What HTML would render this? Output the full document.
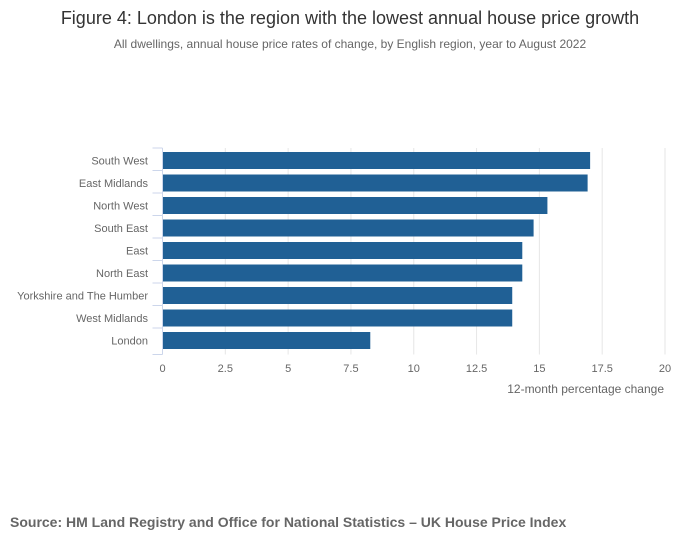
<!DOCTYPE html>
<html><head><meta charset="utf-8"><style>
body{margin:0;background:#fff;font-family:"Liberation Sans",sans-serif}
</style></head><body>
<svg width="700" height="549" xmlns="http://www.w3.org/2000/svg">
<text x="350" y="24" text-anchor="middle" font-size="18" fill="#333">Figure 4: London is the region with the lowest annual house price growth</text>
<text x="350" y="48" text-anchor="middle" font-size="12" fill="#666">All dwellings, annual house price rates of change, by English region, year to August 2022</text>
<g id="grid"></g><g id="bars"></g><g id="axes"></g>
<text x="664" y="393" text-anchor="end" font-size="12" fill="#666">12-month percentage change</text>
<text x="10" y="527" font-size="14" font-weight="bold" fill="#666">Source: HM Land Registry and Office for National Statistics – UK House Price Index</text>
</svg>
<script>
const categories=["South West","East Midlands","North West","South East","East","North East","Yorkshire and The Humber","West Midlands","London"];
const values=[17.0,16.9,15.3,14.75,14.3,14.3,13.9,13.9,8.25];
const ticks=[0,2.5,5,7.5,10,12.5,15,17.5,20];
const ns="http://www.w3.org/2000/svg";
const x0=162.5,x1=665,yTop=148,band=22.5;
const yBottom=yTop+band*categories.length+4;
const xs=v=>x0+(v-0)/(20-0)*(x1-x0);
function mk(t,a,p){const e=document.createElementNS(ns,t);for(const k in a)e.setAttribute(k,a[k]);p.appendChild(e);return e;}
const g=document.getElementById('grid'),b=document.getElementById('bars'),ax=document.getElementById('axes');
ticks.forEach((t,i)=>{
 if(i>0){const l=mk('line',{x1:xs(t),x2:xs(t),y1:yTop,y2:yBottom,stroke:'#e6e6e6'},g);
 
 }
 const tx=mk('text',{x:xs(t),y:372,'text-anchor':'middle','font-size':11,fill:'#666'},ax);tx.textContent=t;
 
 
});
const al=mk('line',{x1:x0,x2:x0,y1:yTop,y2:yBottom,stroke:'#ccd6eb'},ax);


for(let i=0;i<=categories.length;i++){const yy=i==categories.length?yBottom:yTop+i*band;mk('line',{x1:x0-10,x2:x0,y1:yy,y2:yy,stroke:'#ccd6eb'},ax);}
categories.forEach((c,i)=>{
 const y=yTop+i*band;
 const r=mk('rect',{x:x0+0.5,y:y+4,width:xs(values[i])-x0,height:17,fill:'#206095'},b);
 
 
 const t=mk('text',{x:148,y:y+16.5,'text-anchor':'end','font-size':11,fill:'#666'},ax);t.textContent=c;
 
 
});
</script>
</body></html>
